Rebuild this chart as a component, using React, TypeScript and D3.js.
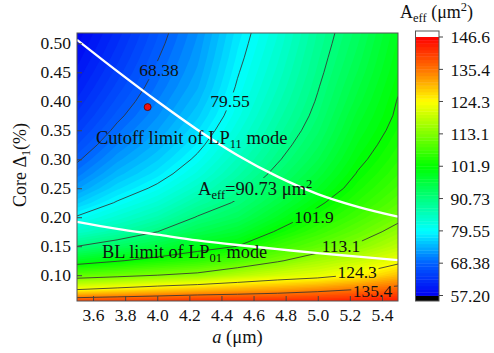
import React, { useEffect, useRef } from "react";
import * as d3 from "d3";

const WIDTH = 494;
const HEIGHT = 353;
const FONT = "'Liberation Serif', 'Times New Roman', serif";

// grid of the A_eff map: core radius a (um) x relative index difference (%)
const aValues = [3.5, 3.75, 4.0, 4.25, 4.5, 4.75, 5.0, 5.25, 5.5];
const deltaValues = [
  0.05, 0.075, 0.1, 0.125, 0.15, 0.175, 0.2, 0.225, 0.25, 0.275,
  0.3, 0.325, 0.35, 0.375, 0.4, 0.425, 0.45, 0.475, 0.5, 0.525,
];

// A_eff (um^2) columns, one per a value, from delta = 0.05 up to 0.525
const aeffA350 = [144.4, 124.4, 110.1, 99.1, 90.7, 84.3, 79.9, 75.9, 72.6, 70.0, 67.9, 66.1, 64.5, 63.1, 61.9, 60.8, 59.8, 58.9, 58.1, 57.4];
const aeffA375 = [144.9, 126.1, 111.5, 101.5, 93.5, 87.2, 83.3, 79.9, 77.0, 74.5, 72.4, 70.6, 69.1, 67.7, 66.5, 65.4, 64.4, 63.5, 62.7, 61.9];
const aeffA400 = [145.0, 128.0, 113.1, 103.8, 96.3, 90.7, 86.5, 83.2, 80.3, 77.9, 76.0, 74.3, 72.8, 71.6, 70.6, 69.7, 68.9, 68.2, 67.5, 66.9];
const aeffA425 = [145.5, 129.6, 114.5, 105.8, 99.7, 94.9, 91.0, 87.6, 84.6, 82.1, 80.2, 78.6, 77.2, 75.9, 74.8, 73.8, 73.1, 72.5, 72.0, 71.5];
const aeffA450 = [145.5, 130.8, 117.9, 108.6, 101.9, 97.6, 94.0, 91.3, 89.0, 87.0, 85.3, 83.8, 82.5, 81.4, 80.6, 79.9, 79.3, 78.7, 78.2, 77.7];
const aeffA475 = [145.5, 132.1, 120.5, 112.5, 106.9, 102.4, 98.8, 96.0, 93.7, 91.9, 90.3, 89.0, 87.8, 86.8, 85.9, 85.1, 84.4, 83.8, 83.2, 82.7];
const aeffA500 = [145.5, 133.8, 122.1, 116.3, 110.2, 106.6, 103.6, 101.1, 98.6, 96.7, 95.1, 93.8, 92.7, 91.8, 91.1, 90.5, 89.9, 89.4, 88.9, 88.5];
const aeffA525 = [146.0, 135.6, 125.0, 119.3, 113.9, 110.5, 107.7, 105.5, 103.7, 102.2, 100.9, 99.8, 98.8, 97.9, 96.9, 96.1, 95.3, 94.6, 94.0, 93.4];
const aeffA550 = [146.0, 137.5, 129.3, 122.8, 118.3, 114.8, 111.9, 109.6, 107.8, 106.3, 105.1, 104.1, 103.2, 102.5, 102.1, 101.5, 100.9, 100.4, 99.9, 99.4];
const aeffColumns = [aeffA350, aeffA375, aeffA400, aeffA425, aeffA450, aeffA475, aeffA500, aeffA525, aeffA550];

// colour levels
const levelTicks = [57.2, 68.38, 79.55, 90.73, 101.9, 113.1, 124.3, 135.4, 146.6];
const levelLabels = ["57.20", "68.38", "79.55", "90.73", "101.9", "113.1", "124.3", "135.4", "146.6"];
const lineLevels = [68.38, 79.55, 90.73, 101.9, 113.1, 124.3, 135.4];
const subLevels = 10;

// palette stops (value -> colour)
const paletteValues = [57.2, 68.38, 79.55, 101.9, 124.3, 135.4, 146.6];
const paletteColors = ["#0000f2", "#0060ff", "#00ffff", "#00ff00", "#ffff00", "#ff7400", "#ff0000"];

const xTicks = [3.6, 3.8, 4.0, 4.2, 4.4, 4.6, 4.8, 5.0, 5.2, 5.4];
const yTicks = [0.1, 0.15, 0.2, 0.25, 0.3, 0.35, 0.4, 0.45, 0.5];

// white limit curves
const cutoffA = [3.5, 3.75, 4.0, 4.25, 4.5, 4.75, 5.0, 5.25, 5.5];
const cutoffDelta = [0.506, 0.452, 0.4, 0.351, 0.307, 0.27, 0.24, 0.218, 0.201];
const bendA = [3.5, 3.75, 4.0, 4.25, 4.5, 4.75, 5.0, 5.25, 5.5];
const bendDelta = [0.192, 0.18, 0.17, 0.16, 0.152, 0.145, 0.138, 0.132, 0.126];

const designA = 3.94;
const designDelta = 0.39;

// contour value labels
const valueLabels = ["68.38", "79.55", "101.9", "113.1", "124.3", "135.4"];
const valueLabelA = [4.011, 4.453, 4.977, 5.145, 5.245, 5.341];
const valueLabelDelta = [0.454, 0.4, 0.2, 0.15, 0.1066, 0.0738];

const App: React.FC = () => {
  const ref = useRef<SVGSVGElement>(null);

  useEffect(() => {
    if (!ref.current) return;
    const svg = d3.select(ref.current);
    svg.selectAll("*").remove();

    const plot = { left: 77, right: 398, top: 33, bottom: 301 };
    const x = d3.scaleLinear().domain([3.5, 5.5]).range([plot.left, plot.right]);
    const y = d3.scaleLinear().domain([0.0555, 0.5178]).range([plot.bottom, plot.top]);
    const color = d3
      .scaleLinear<string>()
      .domain(paletteValues)
      .range(paletteColors)
      .clamp(true);

    const nx = aValues.length;
    const ny = deltaValues.length;
    const grid: number[] = new Array(nx * ny);
    for (let j = 0; j < ny; j++) {
      for (let i = 0; i < nx; i++) grid[j * nx + i] = aeffColumns[i][j];
    }

    const lo = levelTicks[0];
    const hi = levelTicks[levelTicks.length - 1];
    const nFine = (levelTicks.length - 1) * subLevels;
    const step = (hi - lo) / nFine;
    const fine = d3.range(nFine + 1).map((k) => lo + k * step);

    const da = aValues[1] - aValues[0];
    const dd = deltaValues[1] - deltaValues[0];
    const path = d3.geoPath(
      d3.geoTransform({
        point(px: number, py: number) {
          this.stream.point(
            x(aValues[0] + (px - 0.5) * da),
            y(deltaValues[0] + (py - 0.5) * dd)
          );
        },
      })
    );

    const defs = svg.append("defs");
    defs
      .append("clipPath")
      .attr("id", "plotClip")
      .append("rect")
      .attr("x", plot.left)
      .attr("y", plot.top)
      .attr("width", plot.right - plot.left)
      .attr("height", plot.bottom - plot.top);

    const mask = defs
      .append("mask")
      .attr("id", "labelMask")
      .attr("maskUnits", "userSpaceOnUse")
      .attr("x", 0)
      .attr("y", 0)
      .attr("width", WIDTH)
      .attr("height", HEIGHT);
    mask.append("rect").attr("width", WIDTH).attr("height", HEIGHT).attr("fill", "white");

    // filled bands
    const map = svg.append("g").attr("clip-path", "url(#plotClip)");
    map
      .append("rect")
      .attr("x", plot.left)
      .attr("y", plot.top)
      .attr("width", plot.right - plot.left)
      .attr("height", plot.bottom - plot.top)
      .attr("fill", color(lo));

    const bands = d3.contours().size([nx, ny]).thresholds(fine)(grid);
    map
      .selectAll("path.band")
      .data(bands)
      .join("path")
      .attr("class", "band")
      .attr("d", (d) => path(d as any))
      .attr("fill", (d) => color(d.value + step / 2));

    // contour lines
    const lines = d3.contours().size([nx, ny]).thresholds(lineLevels)(grid);
    map
      .append("g")
      .attr("mask", "url(#labelMask)")
      .selectAll("path")
      .data(lines)
      .join("path")
      .attr("d", (d) => path(d as any))
      .attr("fill", "none")
      .attr("stroke", "#333")
      .attr("stroke-width", 0.85);

    // white limit curves
    const curve = d3.line<number>().curve(d3.curveMonotoneX);
    map
      .append("path")
      .attr("d", curve.x((_, i) => x(cutoffA[i])).y((d) => y(d))(cutoffDelta))
      .attr("fill", "none")
      .attr("stroke", "white")
      .attr("stroke-width", 2.4);
    map
      .append("path")
      .attr("d", curve.x((_, i) => x(bendA[i])).y((d) => y(d))(bendDelta))
      .attr("fill", "none")
      .attr("stroke", "white")
      .attr("stroke-width", 2.4);

    // design point
    svg
      .append("circle")
      .attr("cx", x(designA))
      .attr("cy", y(designDelta))
      .attr("r", 3.5)
      .attr("fill", "#ee1111")
      .attr("stroke", "#550000")
      .attr("stroke-width", 0.8);

    // labels inside the map
    const text = svg
      .append("g")
      .attr("font-family", FONT)
      .attr("font-size", 17.5)
      .attr("fill", "#111");

    const maskBox = (node: SVGTextElement) => {
      const b = node.getBBox();
      mask
        .append("rect")
        .attr("x", b.x - 1.5)
        .attr("y", b.y + 1)
        .attr("width", b.width + 3)
        .attr("height", b.height - 2)
        .attr("fill", "black");
    };

    valueLabels.forEach((t, i) => {
      const node = text
        .append("text")
        .attr("x", x(valueLabelA[i]))
        .attr("y", y(valueLabelDelta[i]))
        .attr("dy", "0.35em")
        .attr("text-anchor", "middle")
        .text(t);
      maskBox(node.node() as SVGTextElement);
    });

    const aeffLabel = text
      .append("text")
      .attr("x", x(4.254))
      .attr("y", y(0.2384))
      .attr("font-size", 18.5);
    aeffLabel.append("tspan").text("A");
    aeffLabel.append("tspan").attr("font-size", 12.5).attr("dy", 4).text("eff");
    aeffLabel.append("tspan").attr("dy", -4).text("=90.73 \u03bcm");
    aeffLabel.append("tspan").attr("font-size", 12.5).attr("dy", -7).text("2");
    maskBox(aeffLabel.node() as SVGTextElement);

    const cutoffLabel = text
      .append("text")
      .attr("x", x(3.618))
      .attr("y", y(0.3264))
      .attr("font-size", 18.5);
    cutoffLabel.append("tspan").text("Cutoff limit of LP");
    cutoffLabel.append("tspan").attr("font-size", 12.5).attr("dy", 4).text("11");
    cutoffLabel.append("tspan").attr("dy", -4).text(" mode");

    const bendLabel = text
      .append("text")
      .attr("x", x(3.656))
      .attr("y", y(0.1293))
      .attr("font-size", 18.3);
    bendLabel.append("tspan").text("BL limit of LP");
    bendLabel.append("tspan").attr("font-size", 12.5).attr("dy", 4).text("01");
    bendLabel.append("tspan").attr("dy", -4).text(" mode");

    // frame
    svg
      .append("rect")
      .attr("x", plot.left)
      .attr("y", plot.top)
      .attr("width", plot.right - plot.left)
      .attr("height", plot.bottom - plot.top)
      .attr("fill", "none")
      .attr("stroke", "#555")
      .attr("stroke-width", 1);

    // axes
    const xAxis = svg
      .append("g")
      .attr("transform", `translate(0,${plot.bottom})`)
      .call(
        d3
          .axisBottom(x)
          .tickValues(xTicks)
          .tickSizeInner(-5)
          .tickSizeOuter(0)
          .tickPadding(7.5)
          .tickFormat(d3.format(".1f"))
      );
    const yAxis = svg
      .append("g")
      .attr("transform", `translate(${plot.left},0)`)
      .call(
        d3
          .axisLeft(y)
          .tickValues(yTicks)
          .tickSizeInner(-5)
          .tickSizeOuter(0)
          .tickPadding(6)
          .tickFormat(d3.format(".2f"))
      );
    [xAxis, yAxis].forEach((g) => {
      g.select(".domain").remove();
      g.attr("font-family", FONT).attr("font-size", 17.5);
      g.selectAll("line").attr("stroke", "#444");
      g.selectAll("text").attr("fill", "#111");
    });

    svg
      .append("text")
      .attr("x", (plot.left + plot.right) / 2)
      .attr("y", 343)
      .attr("text-anchor", "middle")
      .attr("font-family", FONT)
      .attr("font-size", 18.5)
      .attr("fill", "#111")
      .call((t) => {
        t.append("tspan").attr("font-style", "italic").text("a");
        t.append("tspan").text(" (\u03bcm)");
      });

    const yTitle = svg
      .append("text")
      .attr("transform", `translate(26,${(plot.top + plot.bottom) / 2 - 2}) rotate(-90)`)
      .attr("text-anchor", "middle")
      .attr("font-family", FONT)
      .attr("font-size", 18)
      .attr("fill", "#111");
    yTitle.append("tspan").text("Core \u0394");
    yTitle.append("tspan").attr("font-size", 12).attr("dy", 4).text("1");
    yTitle.append("tspan").attr("dy", -4).text("(%)");

    // colour bar
    const bar = { left: 415.5, right: 439, top: 31, bottom: 301 };
    const cbY = d3.scaleLinear().domain([lo, hi]).range([295.5, 37]);
    const cb = svg.append("g");
    cb.append("rect")
      .attr("x", bar.left)
      .attr("y", bar.top)
      .attr("width", bar.right - bar.left)
      .attr("height", cbY(hi) - bar.top)
      .attr("fill", "white");
    cb.append("rect")
      .attr("x", bar.left)
      .attr("y", cbY(lo))
      .attr("width", bar.right - bar.left)
      .attr("height", bar.bottom - cbY(lo))
      .attr("fill", "black");
    cb.selectAll("rect.level")
      .data(fine.slice(0, -1))
      .join("rect")
      .attr("class", "level")
      .attr("x", bar.left)
      .attr("y", (d) => cbY(d + step))
      .attr("width", bar.right - bar.left)
      .attr("height", (d) => cbY(d) - cbY(d + step) + 0.4)
      .attr("fill", (d) => color(d + step / 2));
    cb.append("rect")
      .attr("x", bar.left)
      .attr("y", bar.top)
      .attr("width", bar.right - bar.left)
      .attr("height", bar.bottom - bar.top)
      .attr("fill", "none")
      .attr("stroke", "#555")
      .attr("stroke-width", 1);
    cb.selectAll("line.tick")
      .data(levelTicks)
      .join("line")
      .attr("class", "tick")
      .attr("x1", bar.right)
      .attr("x2", bar.right + 4)
      .attr("y1", (d) => cbY(d))
      .attr("y2", (d) => cbY(d))
      .attr("stroke", "#444");
    cb.selectAll("text.tick")
      .data(levelTicks)
      .join("text")
      .attr("class", "tick")
      .attr("x", bar.right + 11.5)
      .attr("y", (d) => cbY(d))
      .attr("dy", "0.35em")
      .attr("font-family", FONT)
      .attr("font-size", 17.5)
      .attr("fill", "#111")
      .text((_, i) => levelLabels[i]);

    const cbTitle = svg
      .append("text")
      .attr("x", 400)
      .attr("y", 18)
      .attr("font-family", FONT)
      .attr("font-size", 18)
      .attr("fill", "#111");
    cbTitle.append("tspan").text("A");
    cbTitle.append("tspan").attr("font-size", 12.5).attr("dy", 4).text("eff");
    cbTitle.append("tspan").attr("dy", -4).text(" (\u03bcm");
    cbTitle.append("tspan").attr("font-size", 12.5).attr("dy", -7).text("2");
    cbTitle.append("tspan").attr("dy", 7).text(")");
  }, []);

  return (
    <svg
      ref={ref}
      width={WIDTH}
      height={HEIGHT}
      viewBox={`0 0 ${WIDTH} ${HEIGHT}`}
      style={{ position: "absolute", left: 0, top: 0, background: "white" }}
    />
  );
};

export default App;
